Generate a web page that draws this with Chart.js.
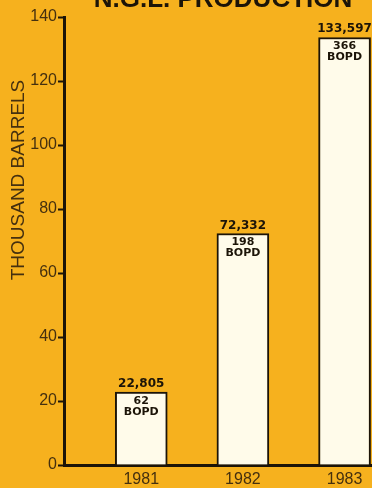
<!DOCTYPE html>
<html>
<head>
<meta charset="utf-8">
<script src="https://cdn.jsdelivr.net/npm/chart.js@4"></script>
<style>
  html, body { margin: 0; padding: 0; background: #f6b11e; overflow: hidden; }
  #wrap { width: 372px; height: 488px; position: relative; }
</style>
</head>
<body>
<div id="wrap"><canvas id="grafica"></canvas></div>
<script>
// datos
const years = [1981, 1982, 1983];
const barrels = [22.805, 72.332, 133.597];          // miles de barriles
const barrelLabels = ['22,805', '72,332', '133,597'];
const bopd = ['62', '198', '366'];
const yTicks = [0, 20, 40, 60, 80, 100, 120, 140];

const titulo = 'N.G.L. PRODUCTION';
const yTitulo = 'THOUSAND BARRELS';

const tinta = '#1c1408';
const marron = '#45300f';

// etiquetas encima y dentro de las barras + titulos
const etiquetas = {
  id: 'etiquetas',
  afterDatasetsDraw(chart) {
    const ctx = chart.ctx;
    const meta = chart.getDatasetMeta(0);
    ctx.save();
    ctx.fillStyle = tinta;
    ctx.textAlign = 'center';
    meta.data.forEach((bar, i) => {
      ctx.font = 'bold 12px "DejaVu Sans"';
      ctx.textBaseline = 'alphabetic';
      ctx.fillText(barrelLabels[i], bar.x, bar.y - 5);
      ctx.font = 'bold 11px "DejaVu Sans"';
      ctx.textBaseline = 'middle';
      ctx.fillText(bopd[i], bar.x, bar.y + 9);
      ctx.fillText('BOPD', bar.x, bar.y + 20);
    });

    // titulo (cortado arriba como en el original)
    ctx.font = 'bold 26px "Liberation Sans"';
    ctx.textBaseline = 'alphabetic';
    ctx.fillText(titulo, 223, 7);

    // titulo del eje y
    ctx.fillStyle = marron;
    ctx.font = '19px "Liberation Sans"';
    ctx.translate(24, 180);
    ctx.rotate(-Math.PI / 2);
    ctx.textBaseline = 'alphabetic';
    ctx.fillText(yTitulo, 0, 0);
    ctx.restore();
  }
};

const ctx = document.getElementById('grafica').getContext('2d');
new Chart(ctx, {
  type: 'bar',
  data: {
    datasets: [{
      data: years.map((y, i) => ({ x: y, y: barrels[i] })),
      backgroundColor: '#fffbea',
      borderColor: tinta,
      borderWidth: 2,
      borderSkipped: 'bottom',
      barThickness: 52
    }]
  },
  options: {
    responsive: true,
    maintainAspectRatio: false,
    animation: false,
    layout: { padding: { top: 17, right: 0, left: 0, bottom: 0 } },
    plugins: {
      legend: { display: false },
      tooltip: { enabled: false }
    },
    scales: {
      x: {
        type: 'linear',
        offset: false,
        min: 1980.24,
        max: 1983.27,
        afterBuildTicks: (s) => { s.ticks = years.map(v => ({ value: v })); },
        afterFit: (s) => { s.height = 23; },
        grid: { display: false, drawTicks: false, offset: false },
        border: { color: tinta, width: 3 },
        ticks: {
          padding: 5,
          color: marron,
          font: { family: 'Liberation Sans', size: 16 },
          callback: (v) => String(v)
        }
      },
      y: {
        min: 0,
        max: 140,
        afterBuildTicks: (s) => { s.ticks = yTicks.map(v => ({ value: v })); },
        afterFit: (s) => { s.width = 64; },
        grid: {
          drawOnChartArea: false,
          drawTicks: true,
          tickLength: 6,
          tickColor: tinta,
          tickWidth: 2
        },
        border: { color: tinta, width: 3 },
        ticks: {
          padding: 1,
          color: marron,
          font: { family: 'Liberation Sans', size: 16 }
        }
      }
    }
  },
  plugins: [etiquetas]
});
</script>
</body>
</html>
